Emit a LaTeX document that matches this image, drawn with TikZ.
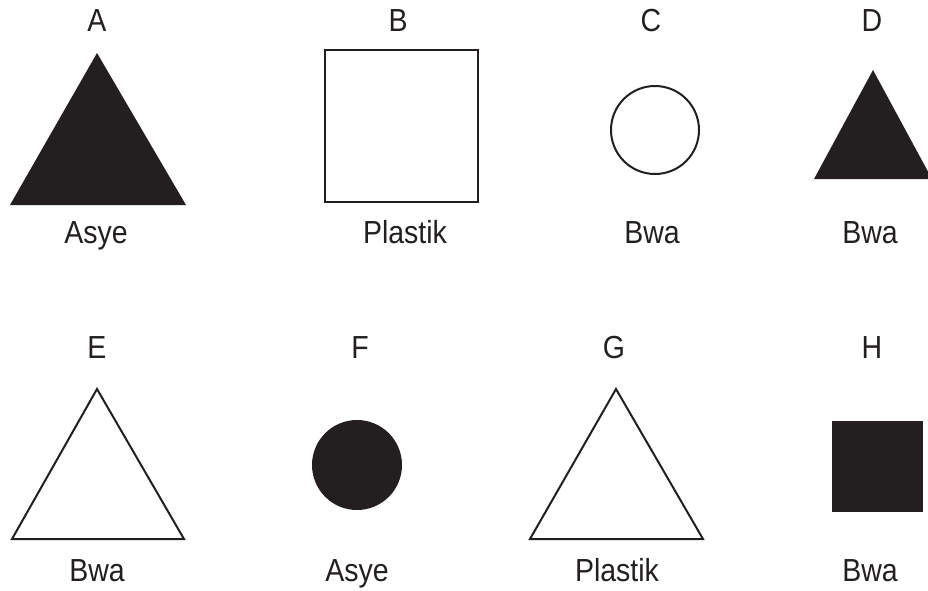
\documentclass[tikz,border=0pt]{standalone}
\usepackage{fontspec}
\usepackage{graphicx}
\setmainfont{Liberation Sans}
\definecolor{ink}{HTML}{231F20}
\newcommand{\tall}[1]{\scalebox{1}[1.12]{#1}}
\begin{document}
\begin{tikzpicture}[x=1pt,y=-1pt,
  lbl/.style={anchor=base,font=\fontsize{28.5}{34}\selectfont,text=ink,inner sep=0pt},
  outl/.style={draw=ink,line width=2pt,line join=miter}]
\useasboundingbox (0,0) rectangle (928,590);
\begin{scope}
\clip (0,0) rectangle (928,590);
% Top row
\node[lbl] (la) at (97,31) {\tall{A}};
\fill[ink] (97,53) -- (186,205) -- (10,205) -- cycle;
\node[lbl] (ma) at (96,243) {\tall{Asye}};

\node[lbl] (lb) at (398,31) {\tall{B}};
\draw[outl] (325,50) rectangle (478,202);
\node[lbl] (mb) at (405,243) {\tall{Plastik}};

\node[lbl] (lc) at (651,31) {\tall{C}};
\draw[outl] (655,130) circle (44);
\node[lbl] (mc) at (652,243) {\tall{Bwa}};

\node[lbl] (ld) at (872,31) {\tall{D}};
\fill[ink] (873,70) -- (932,179) -- (814,179) -- cycle;
\node[lbl] (md) at (870,243) {\tall{Bwa}};

% Bottom row
\node[lbl] (le) at (97,358) {\tall{E}};
\draw[outl] (97,389) -- (184,539) -- (12,539) -- cycle;
\node[lbl] (me) at (97,581) {\tall{Bwa}};

\node[lbl] (lf) at (360,358) {\tall{F}};
\fill[ink] (357,465) circle (45);
\node[lbl] (mf) at (357,581) {\tall{Asye}};

\node[lbl] (lg) at (614,358) {\tall{G}};
\draw[outl] (616,389) -- (703,539) -- (530,539) -- cycle;
\node[lbl] (mg) at (617,581) {\tall{Plastik}};

\node[lbl] (lh) at (872,358) {\tall{H}};
\fill[ink] (832,421) rectangle (923,512);
\node[lbl] (mh) at (870,581) {\tall{Bwa}};
\end{scope}
\end{tikzpicture}
\end{document}
